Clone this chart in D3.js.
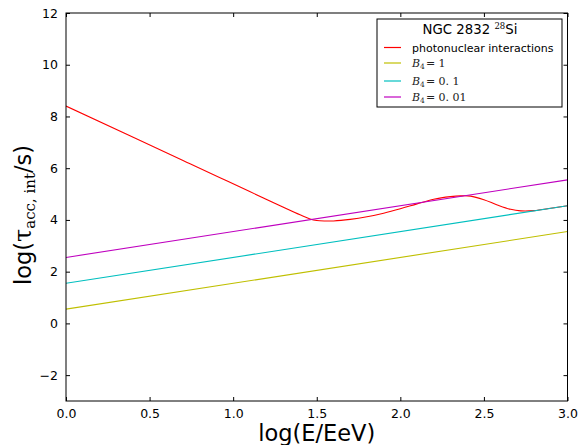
<!DOCTYPE html>
<html>
<head>
<meta charset="utf-8">
<script src="https://cdn.jsdelivr.net/npm/d3@7"></script>
<style>
  body { margin: 0; background: #fff; }
  svg { display: block; font-family: "DejaVu Sans", sans-serif; }
</style>
</head>
<body>
<div id="chart"></div>
<script>
// data
const logE = [0, 0.7, 1.40, 1.46, 1.5, 1.55, 1.6, 1.7, 1.8, 1.9, 2.0, 2.1, 2.2, 2.3, 2.36, 2.42, 2.5, 2.58, 2.66, 2.72, 2.8, 2.9, 3.0];
const photonuclear = [8.4, 6.3, 4.2, 4.04, 3.98, 3.96, 3.96, 4.02, 4.12, 4.26, 4.43, 4.62, 4.8, 4.9, 4.93, 4.92, 4.78, 4.58, 4.41, 4.35, 4.36, 4.45, 4.55];
const lineE = [0, 3];
const b4_1 = [0.55, 3.55];
const b4_01 = [1.55, 4.55];
const b4_001 = [2.55, 5.55];
const xTicks = [0, 0.5, 1, 1.5, 2, 2.5, 3];
const yTicks = [-2, 0, 2, 4, 6, 8, 10, 12];

const width = 579, height = 445;
const margin = {left: 66, right: 11.5, top: 13, bottom: 44};
const w = width - margin.left - margin.right;
const h = height - margin.top - margin.bottom;

const svg = d3.select("#chart").append("svg")
    .attr("width", width)
    .attr("height", height);
const g = svg.append("g")
    .attr("transform", "translate(" + margin.left + "," + margin.top + ")");

const x = d3.scaleLinear().domain([0, 3]).range([0, w]);
const y = d3.scaleLinear().domain([-3, 12]).range([h, 0]);

const line = d3.line().x(d => x(d[0])).y(d => y(d[1]));
const curve = d3.line().x(d => x(d[0])).y(d => y(d[1])).curve(d3.curveCatmullRom.alpha(0.5));

// clip
g.append("clipPath").attr("id", "clip").append("rect").attr("width", w).attr("height", h);
const plot = g.append("g").attr("clip-path", "url(#clip)");

const series = [
    {name: "photonuclear interactions", color: "#ff0000", xs: logE, ys: photonuclear, smooth: true},
    {name: "1", color: "#bfbf00", xs: lineE, ys: b4_1},
    {name: "0.1", color: "#00bfbf", xs: lineE, ys: b4_01},
    {name: "0.01", color: "#bf00bf", xs: lineE, ys: b4_001}
];

series.forEach(function (s) {
    const pts = s.xs.map((v, i) => [v, s.ys[i]]);
    plot.append("path")
        .attr("d", (s.smooth ? curve : line)(pts))
        .attr("fill", "none")
        .attr("stroke", s.color)
        .attr("stroke-width", 1.1);
});

// axes, ticks pointing inwards on all four sides
const fmt = d => d < 0 ? "\u2212" + Math.abs(d) : String(d);
const axB = g.append("g").attr("transform", `translate(0,${h})`)
    .call(d3.axisBottom(x).tickValues(xTicks).tickSizeInner(-4).tickSizeOuter(0).tickPadding(8).tickFormat(d3.format(".1f")));
const axT = g.append("g")
    .call(d3.axisTop(x).tickValues(xTicks).tickSizeInner(-4).tickSizeOuter(0).tickFormat(""));
const axL = g.append("g")
    .call(d3.axisLeft(y).tickValues(yTicks).tickSizeInner(-4).tickSizeOuter(0).tickPadding(8).tickFormat(fmt));
const axR = g.append("g").attr("transform", `translate(${w},0)`)
    .call(d3.axisRight(y).tickValues(yTicks).tickSizeInner(-4).tickSizeOuter(0).tickFormat(""));
[axB, axT, axL, axR].forEach(a => {
    a.select(".domain").remove();
    a.selectAll("line").attr("stroke", "#000");
    a.selectAll("text").attr("font-size", 12.5).attr("fill", "#000").attr("font-family", "DejaVu Sans");
});

g.append("rect")
    .attr("width", w).attr("height", h)
    .attr("fill", "none").attr("stroke", "#000").attr("stroke-width", 1);

// axis labels
svg.append("text")
    .attr("x", margin.left + w / 2).attr("y", 441)
    .attr("text-anchor", "middle")
    .attr("font-size", 22.5)
    .text("log(E/EeV)");

const yl = svg.append("text")
    .attr("transform", `translate(31,${margin.top + h / 2 + 8}) rotate(-90)`)
    .attr("text-anchor", "middle")
    .attr("font-size", 22.5);
yl.append("tspan").text("log(");
yl.append("tspan").attr("font-family", "DejaVu Serif").attr("font-size", 24).text("\u03c4");
yl.append("tspan").attr("font-family", "DejaVu Serif").attr("font-size", 15).attr("dy", 4).text("acc, int");
yl.append("tspan").attr("dy", -4).text("/s)");

// legend
const lg = svg.append("g").attr("transform", "translate(377,19)");
lg.append("rect").attr("width", 185).attr("height", 88)
    .attr("fill", "#fff").attr("stroke", "#000").attr("stroke-width", 1);
const lt = lg.append("text").attr("x", 93).attr("y", 15).attr("text-anchor", "middle").attr("font-size", 13.3);
lt.append("tspan").text("NGC 2832 ");
lt.append("tspan").attr("font-family", "DejaVu Serif").attr("font-size", 8.5).attr("dy", -5).text("28");
lt.append("tspan").attr("dy", 5).text("Si");

const rowY = [28.5, 44, 62, 78];
series.forEach(function (s, i) {
    const row = lg.append("g").attr("transform", `translate(0,${rowY[i]})`);
    row.append("line").attr("x1", 7).attr("x2", 24).attr("y1", 0).attr("y2", 0)
        .attr("stroke", s.color).attr("stroke-width", 1.2);
    const t = row.append("text").attr("x", 35).attr("y", 4).attr("font-size", 11);
    if (i === 0) {
        t.text(s.name);
    } else {
        t.attr("font-family", "DejaVu Serif").attr("fill", "#222");
        t.append("tspan").attr("font-style", "italic").text("B");
        t.append("tspan").attr("font-size", 7.5).attr("dy", 2).text("4");
        t.append("tspan").attr("dy", -2).attr("dx", 1).text("= " + s.name.replace(".", ". "));
    }
});
</script>
</body>
</html>
